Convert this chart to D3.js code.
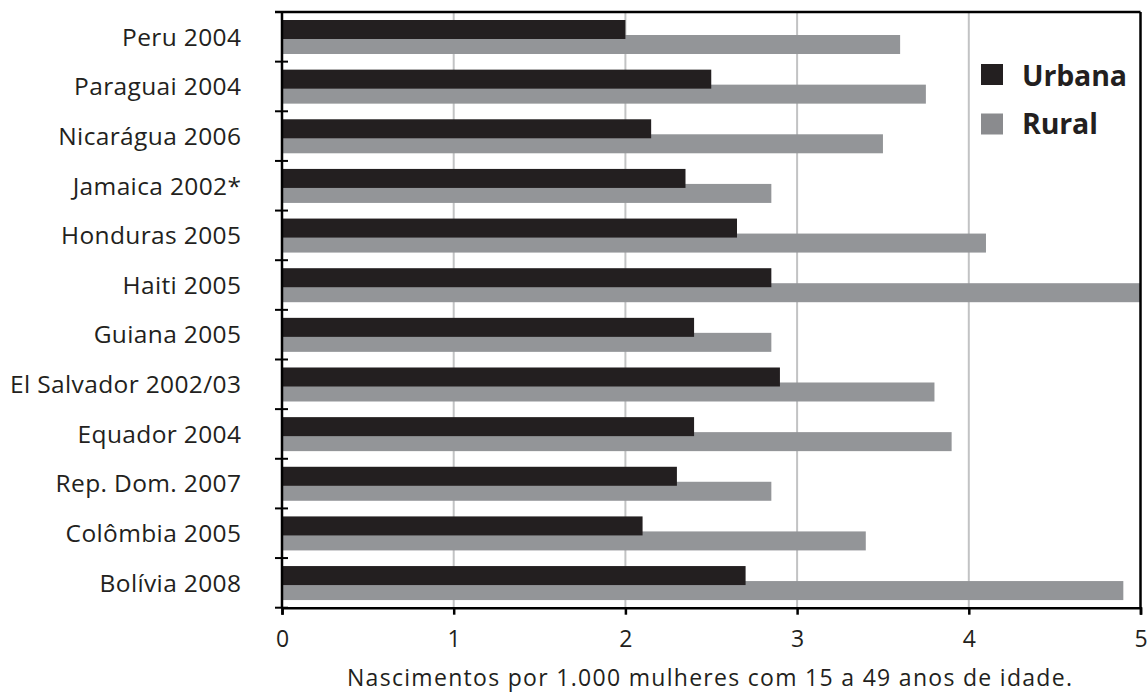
<!DOCTYPE html>
<html><head><meta charset="utf-8">
<script src="https://cdn.jsdelivr.net/npm/d3@7/dist/d3.min.js"></script>
<style>body{margin:0;background:#fff}svg{display:block}text{font-family:"Open Sans",Lato,sans-serif;fill:#231f20;font-variant-ligatures:none;font-feature-settings:"liga" 0}</style>
</head><body>
<svg id="c" width="1147" height="694"></svg>
<script>
const categories = ["Peru 2004","Paraguai 2004","Nicarágua 2006","Jamaica 2002*","Honduras 2005","Haiti 2005","Guiana 2005","El Salvador 2002/03","Equador 2004","Rep. Dom. 2007","Colômbia 2005","Bolívia 2008"];
const urbana = [2.0, 2.5, 2.15, 2.35, 2.65, 2.85, 2.4, 2.9, 2.4, 2.3, 2.1, 2.7];
const rural  = [3.6, 3.75, 3.5, 2.85, 4.1, 5.0, 2.85, 3.8, 3.9, 2.85, 3.4, 4.9];
const seriesNames = ["Urbana","Rural"];
const xTicks = [0,1,2,3,4,5];
const xTitle = "Nascimentos por 1.000 mulheres com 15 a 49 anos de idade.";
const colors = {Urbana:"#231f20", Rural:"#939598"};

const svg = d3.select("#c");
const L=282, R=1140.5, T=12, B=607.7;
const x = d3.scaleLinear().domain([0,5]).range([L,R]);
const y = d3.scaleBand().domain(categories).range([T,B]).padding(0);
const sub = d3.scalePoint().domain(seriesNames).range([8,23]);
const barH = 19;

function fitSpacing(sel, target){
  const n = sel.text().length;
  const w = sel.node().getComputedTextLength();
  return (target - w) / Math.max(1, n - 1);
}

// gridlines
svg.append("g").selectAll("line").data(xTicks.filter(t=>t>0&&t<5)).join("line")
  .attr("x1",d=>x(d)).attr("x2",d=>x(d)).attr("y1",T).attr("y2",B)
  .attr("stroke","#c2c3c4").attr("stroke-width",2);

// bars: rural first, urban on top
const data = categories.map((c,i)=>({c, Urbana:urbana[i], Rural:rural[i]}));
["Rural","Urbana"].forEach(s=>{
  svg.append("g").selectAll("rect").data(data).join("rect")
    .attr("x",x(0)).attr("y",d=>y(d.c)+sub(s))
    .attr("width",d=>x(d[s])-x(0)).attr("height",barH)
    .attr("fill",colors[s]);
});

// frame: top and right
svg.append("line").attr("x1",275).attr("x2",R).attr("y1",T).attr("y2",T).attr("stroke","#000").attr("stroke-width",2.5);
svg.append("line").attr("x1",R).attr("x2",R).attr("y1",T).attr("y2",B).attr("stroke","#000").attr("stroke-width",2.5);

// x axis
const xa = svg.append("g").attr("transform",`translate(0,${B})`)
  .call(d3.axisBottom(x).tickValues(xTicks).tickFormat(d3.format("d")).tickSize(7).tickPadding(16));
xa.select(".domain").attr("stroke","#000").attr("stroke-width",2.5);
xa.selectAll(".tick line").attr("stroke","#000").attr("stroke-width",2.5);
xa.selectAll(".tick text").attr("font-size",23).attr("font-family","'Open Sans', sans-serif").attr("fill","#231f20");

// y axis
const yBounds = categories.map(c=>y(c)).concat([B]);
svg.append("line").attr("x1",L).attr("x2",L).attr("y1",T).attr("y2",B).attr("stroke","#000").attr("stroke-width",2.5);
svg.append("g").selectAll("line").data(yBounds).join("line")
  .attr("x1",275).attr("x2",288).attr("y1",d=>d).attr("y2",d=>d)
  .attr("stroke","#000").attr("stroke-width",2);
const labels = svg.append("g").selectAll("text").data(categories).join("text")
  .attr("x",241).attr("y",d=>y(d)+y.bandwidth()/2).attr("dy","0.36em")
  .attr("text-anchor","end").attr("font-size",24.5).text(d=>d);
const widest = labels.filter(d=>d==="El Salvador 2002/03");
const lsL = fitSpacing(widest, 231);
labels.attr("letter-spacing", lsL).attr("x", 241 + lsL);

// x title
const title = svg.append("text").attr("x",347).attr("y",686).attr("font-size",23).text(xTitle);
title.attr("letter-spacing", fitSpacing(title, 725));

// legend
const lg = svg.append("g");
let lsLeg = 0;
seriesNames.forEach((s,i)=>{
  lg.append("rect").attr("x",981).attr("y",64+i*49.5).attr("width",22).attr("height",21).attr("fill",s==="Urbana"?colors.Urbana:"#8a8b8e");
  const t = lg.append("text").attr("x",1022).attr("y",85.5+i*48).attr("font-size",28.5).attr("font-weight",700).text(s);
  if(s==="Urbana") lsLeg = fitSpacing(t, 105);
  t.attr("letter-spacing", lsLeg);
});
</script>
</body></html>
